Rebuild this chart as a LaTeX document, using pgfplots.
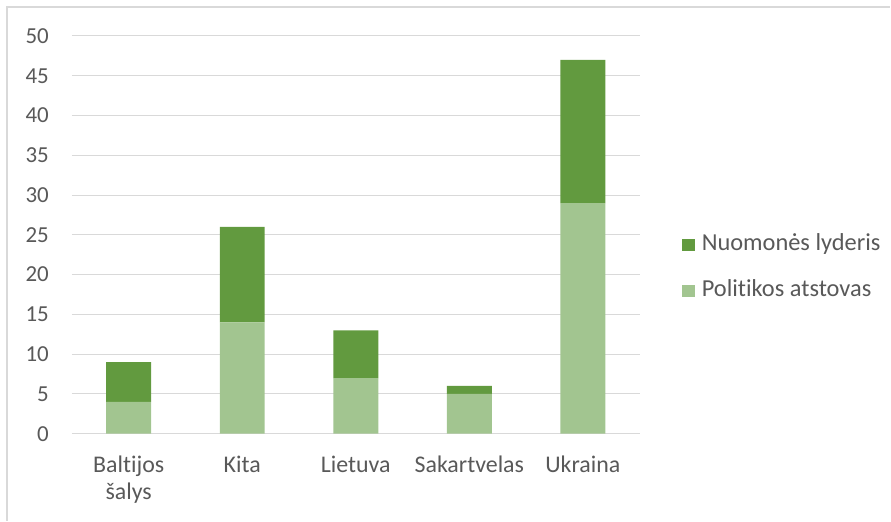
\documentclass[border=0pt]{standalone}
\usepackage{pgfplots}
\pgfplotsset{compat=1.18}
\usepackage{fontspec}
\setmainfont{Carlito}[Ligatures={NoCommon,NoRare,NoDiscretionary}]
\definecolor{darkg}{HTML}{629A3F}
\definecolor{lightg}{HTML}{A2C590}
\definecolor{gridc}{HTML}{D9D9D9}
\definecolor{txt}{HTML}{595959}
\begin{document}
\begin{tikzpicture}[x=1bp,y=1bp]
\begin{axis}[
  at={(0,0)}, anchor=south west,
  scale only axis,
  width=568bp, height=398bp,
  ybar stacked,
  bar width=45bp,
  xmin=-0.5, xmax=4.5,
  ymin=0, ymax=50,
  ytick={0,5,...,50},
  xtick=data,
  xticklabels={{Baltijos\\šalys},Kita,Lietuva,Sakartvelas,Ukraina},
  xticklabel style={align=center, font=\fontsize{24}{27}\selectfont, text=txt, inner sep=0pt, yshift=-22bp},
  yticklabel style={font=\fontsize{23}{27}\selectfont, text=txt, inner sep=0pt, xshift=-23bp},
  /pgf/number format/assume math mode=true,
  major tick length=0pt,
  axis line style={draw=none},
  ymajorgrids, grid style={draw=gridc, line width=1pt},
  legend style={draw=none, at={(1.074,0.417)}, anchor=west, inner sep=0pt,
    row sep=25bp, column sep=7bp,
    nodes={inner sep=0pt, text height=16bp, text depth=5bp},
    font=\fontsize{24.5}{27}\selectfont, text=txt, cells={anchor=west}},
  legend image code/.code={\fill (0bp,-6bp) rectangle (13bp,6bp);},
  reverse legend,
  clip=false,
]
\addplot[fill=lightg, draw=none] coordinates {(0,4) (1,14) (2,7) (3,5) (4,29)};
\addplot[fill=darkg, draw=none] coordinates {(0,5) (1,12) (2,6) (3,1) (4,18)};
\legend{Politikos atstovas, Nuomonės lyderis}
\draw[draw=gridc, line width=1pt] (axis cs:-0.5,0) -- (axis cs:4.5,0);
\end{axis}
\draw[gridc, line width=1.2pt] (-65,-87) -- (-65,427) -- (819,427);
\path (-72,-87) rectangle (819,434);
\end{tikzpicture}
\end{document}
